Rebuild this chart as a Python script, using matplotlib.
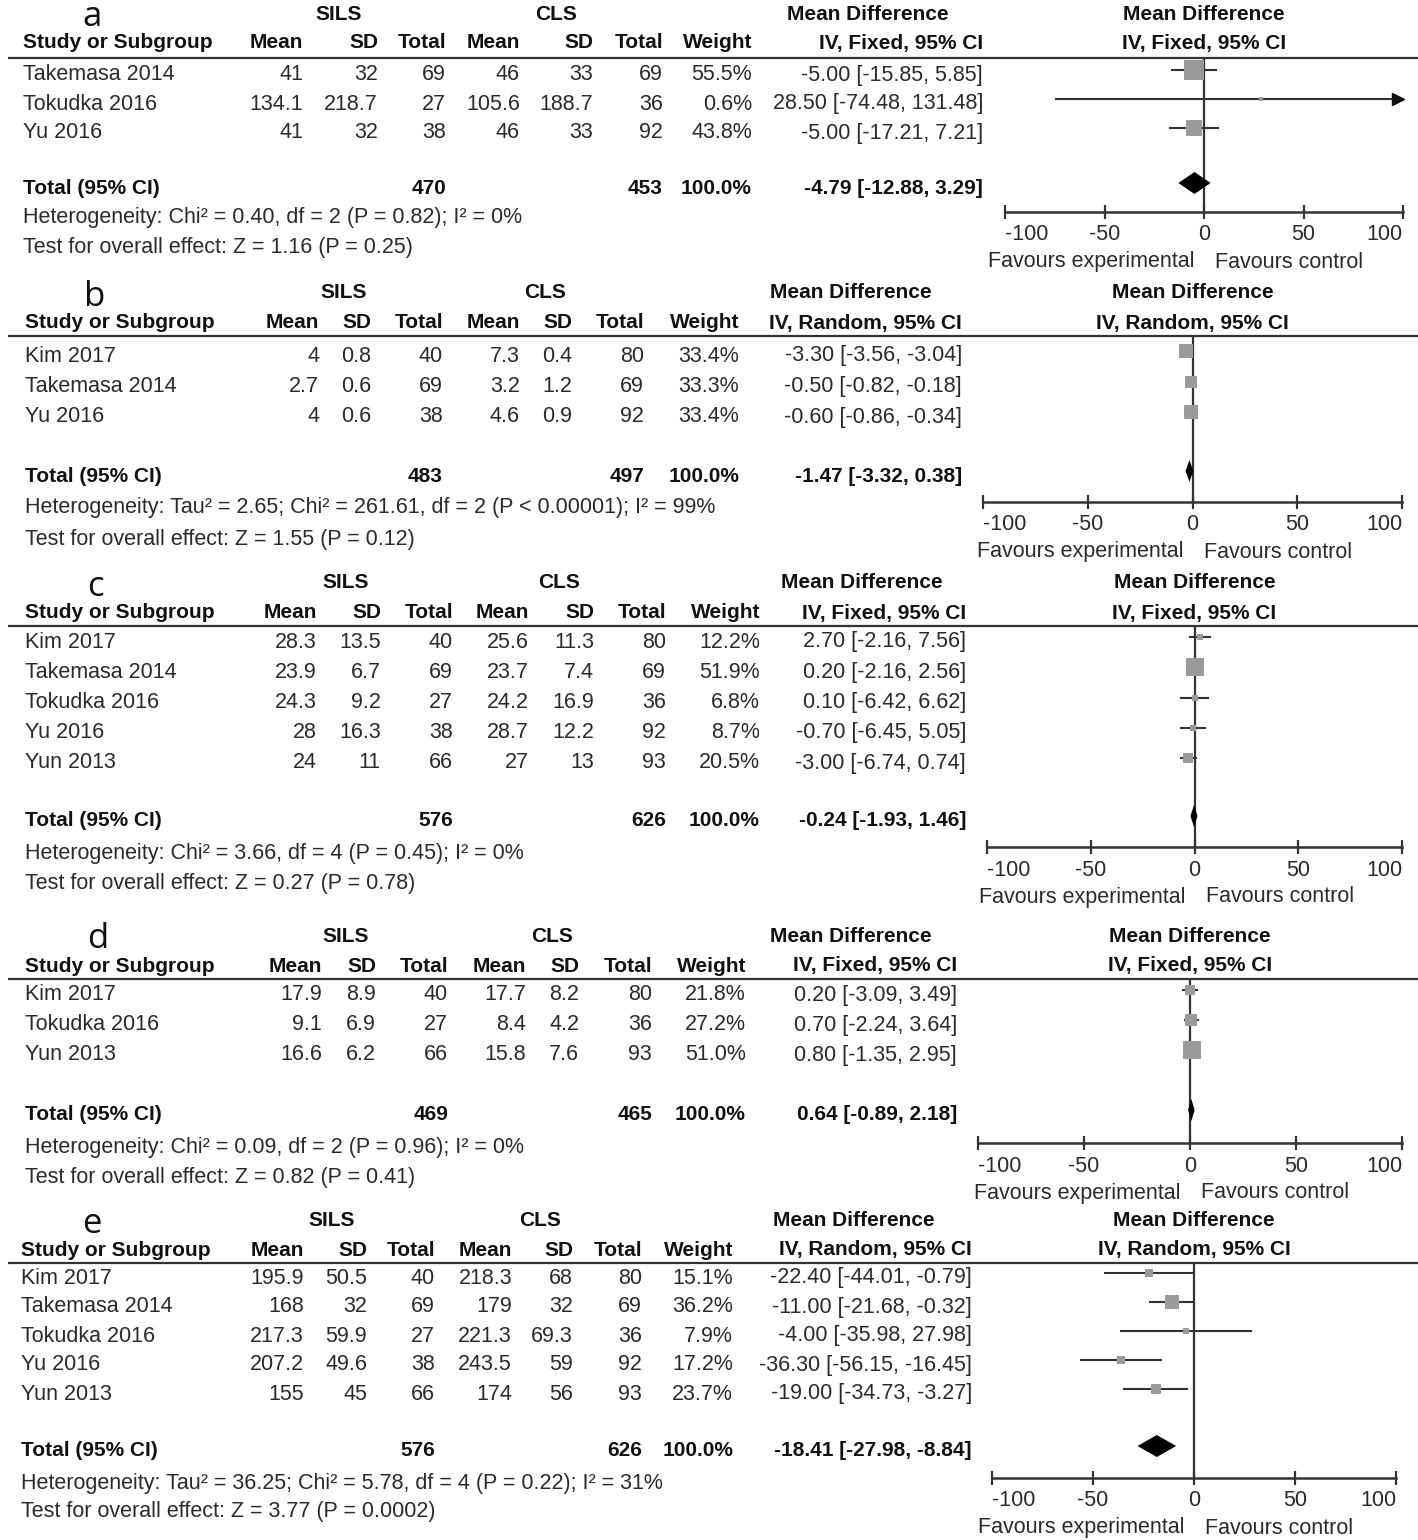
import matplotlib
matplotlib.use("Agg")
import matplotlib.pyplot as plt

W, H = 1418, 1540
plt.rcParams['font.family'] = ['Liberation Sans', 'DejaVu Sans']

# ---------------- data ----------------
# panel a
a_study = ["Takemasa 2014", "Tokudka 2016", "Yu 2016"]
a_sils_mean = [41, 134.1, 41]
a_sils_sd = [32, 218.7, 32]
a_sils_n = [69, 27, 38]
a_cls_mean = [46, 105.6, 46]
a_cls_sd = [33, 188.7, 33]
a_cls_n = [69, 36, 92]
a_weight = [55.5, 0.6, 43.8]
a_md = [-5.00, 28.50, -5.00]
a_lo = [-15.85, -74.48, -17.21]
a_hi = [5.85, 131.48, 7.21]
a_total = [470, 453, -4.79, -12.88, 3.29]
a_het = "Heterogeneity: Chi² = 0.40, df = 2 (P = 0.82); I² = 0%"
a_test = "Test for overall effect: Z = 1.16 (P = 0.25)"
a_method = "IV, Fixed, 95% CI"

# panel b
b_study = ["Kim 2017", "Takemasa 2014", "Yu 2016"]
b_sils_mean = [4, 2.7, 4]
b_sils_sd = [0.8, 0.6, 0.6]
b_sils_n = [40, 69, 38]
b_cls_mean = [7.3, 3.2, 4.6]
b_cls_sd = [0.4, 1.2, 0.9]
b_cls_n = [80, 69, 92]
b_weight = [33.4, 33.3, 33.4]
b_md = [-3.30, -0.50, -0.60]
b_lo = [-3.56, -0.82, -0.86]
b_hi = [-3.04, -0.18, -0.34]
b_total = [483, 497, -1.47, -3.32, 0.38]
b_het = "Heterogeneity: Tau² = 2.65; Chi² = 261.61, df = 2 (P < 0.00001); I² = 99%"
b_test = "Test for overall effect: Z = 1.55 (P = 0.12)"
b_method = "IV, Random, 95% CI"

# panel c
c_study = ["Kim 2017", "Takemasa 2014", "Tokudka 2016", "Yu 2016", "Yun 2013"]
c_sils_mean = [28.3, 23.9, 24.3, 28, 24]
c_sils_sd = [13.5, 6.7, 9.2, 16.3, 11]
c_sils_n = [40, 69, 27, 38, 66]
c_cls_mean = [25.6, 23.7, 24.2, 28.7, 27]
c_cls_sd = [11.3, 7.4, 16.9, 12.2, 13]
c_cls_n = [80, 69, 36, 92, 93]
c_weight = [12.2, 51.9, 6.8, 8.7, 20.5]
c_md = [2.70, 0.20, 0.10, -0.70, -3.00]
c_lo = [-2.16, -2.16, -6.42, -6.45, -6.74]
c_hi = [7.56, 2.56, 6.62, 5.05, 0.74]
c_total = [576, 626, -0.24, -1.93, 1.46]
c_het = "Heterogeneity: Chi² = 3.66, df = 4 (P = 0.45); I² = 0%"
c_test = "Test for overall effect: Z = 0.27 (P = 0.78)"
c_method = "IV, Fixed, 95% CI"

# panel d
d_study = ["Kim 2017", "Tokudka 2016", "Yun 2013"]
d_sils_mean = [17.9, 9.1, 16.6]
d_sils_sd = [8.9, 6.9, 6.2]
d_sils_n = [40, 27, 66]
d_cls_mean = [17.7, 8.4, 15.8]
d_cls_sd = [8.2, 4.2, 7.6]
d_cls_n = [80, 36, 93]
d_weight = [21.8, 27.2, 51.0]
d_md = [0.20, 0.70, 0.80]
d_lo = [-3.09, -2.24, -1.35]
d_hi = [3.49, 3.64, 2.95]
d_total = [469, 465, 0.64, -0.89, 2.18]
d_het = "Heterogeneity: Chi² = 0.09, df = 2 (P = 0.96); I² = 0%"
d_test = "Test for overall effect: Z = 0.82 (P = 0.41)"
d_method = "IV, Fixed, 95% CI"

# panel e
e_study = ["Kim 2017", "Takemasa 2014", "Tokudka 2016", "Yu 2016", "Yun 2013"]
e_sils_mean = [195.9, 168, 217.3, 207.2, 155]
e_sils_sd = [50.5, 32, 59.9, 49.6, 45]
e_sils_n = [40, 69, 27, 38, 66]
e_cls_mean = [218.3, 179, 221.3, 243.5, 174]
e_cls_sd = [68, 32, 69.3, 59, 56]
e_cls_n = [80, 69, 36, 92, 93]
e_weight = [15.1, 36.2, 7.9, 17.2, 23.7]
e_md = [-22.40, -11.00, -4.00, -36.30, -19.00]
e_lo = [-44.01, -21.68, -35.98, -56.15, -34.73]
e_hi = [-0.79, -0.32, 27.98, -16.45, -3.27]
e_total = [576, 626, -18.41, -27.98, -8.84]
e_het = "Heterogeneity: Tau² = 36.25; Chi² = 5.78, df = 4 (P = 0.22); I² = 31%"
e_test = "Test for overall effect: Z = 3.77 (P = 0.0002)"
e_method = "IV, Random, 95% CI"

ticks = [-100, -50, 0, 50, 100]

panels = [
    ("a", a_study, a_sils_mean, a_sils_sd, a_sils_n, a_cls_mean, a_cls_sd, a_cls_n,
     a_weight, a_md, a_lo, a_hi, a_total, a_het, a_test, a_method),
    ("b", b_study, b_sils_mean, b_sils_sd, b_sils_n, b_cls_mean, b_cls_sd, b_cls_n,
     b_weight, b_md, b_lo, b_hi, b_total, b_het, b_test, b_method),
    ("c", c_study, c_sils_mean, c_sils_sd, c_sils_n, c_cls_mean, c_cls_sd, c_cls_n,
     c_weight, c_md, c_lo, c_hi, c_total, c_het, c_test, c_method),
    ("d", d_study, d_sils_mean, d_sils_sd, d_sils_n, d_cls_mean, d_cls_sd, d_cls_n,
     d_weight, d_md, d_lo, d_hi, d_total, d_het, d_test, d_method),
    ("e", e_study, e_sils_mean, e_sils_sd, e_sils_n, e_cls_mean, e_cls_sd, e_cls_n,
     e_weight, e_md, e_lo, e_hi, e_total, e_het, e_test, e_method),
]

# ---------------- layout (pixels) ----------------
# top header, 2nd header, rule, first row, row step, total row, het, test, axis y
rows_y = [
    (15, 43, 57, 75, 29.0, 188, 218, 247, 212),
    (293, 323, 335, 356, 30.5, 476, 508, 539, 502),
    (583, 613, 625, 642, 30.25, 821, 853, 883, 847),
    (936, 966, 978, 995, 30.0, 1115, 1148, 1178, 1143),
    (1221, 1250, 1262, 1278, 29.0, 1451, 1483, 1512, 1478),
]
# right edges: Mean SD Total Mean SD Total Weight CI
cols_x = [
    [303, 378, 446, 520, 593, 663, 752, 983],
    [319, 371, 443, 520, 572, 644, 739, 962],
    [317, 381, 453, 529, 594, 666, 760, 966],
    [322, 376, 448, 526, 579, 652, 746, 957],
    [304, 367, 435, 512, 573, 642, 733, 972],
]
# SILS centre, CLS centre, Mean Difference centre, study left, letter x, letter baseline
head_x = [
    (339, 556, 868, 23, 92, 26),
    (344, 545, 851, 25, 95, 306),
    (346, 559, 862, 25, 95, 596),
    (346, 552, 851, 25, 98, 948),
    (332, 540, 854, 21, 92, 1233),
]
# forest x of -100 and +100
forest_x = [(1005, 1403), (983, 1402), (987, 1402), (978, 1402), (992, 1396)]

FS = 15.5
FSB = 15
TXT = "#2a2a2a"
LINE = "#333333"
BOX = "#9a9a9a"

fig = plt.figure(figsize=(W / 100, H / 100), dpi=100)
bg = fig.add_axes([0, 0, 1, 1])
bg.set_xlim(0, W)
bg.set_ylim(H, 0)
bg.axis("off")


def fmt(v):
    return f"{v:g}"


for k, p in enumerate(panels):
    (letter, study, s_m, s_sd, s_n, c_m, c_sd, c_n,
     weight, md, lo, hi, total, het, test, method) = p
    h1, h2, rule, r0, step, ty, hy, tsy, axy = rows_y[k]
    cx = cols_x[k]
    sils_c, cls_c, md_c, left, lx, ly = head_x[k]
    fx0, fx1 = forest_x[k]
    zero_px = (fx0 + fx1) / 2

    bold = dict(fontsize=FSB, fontweight="bold", color="#111111", va="center")
    norm = dict(fontsize=FS, color=TXT, va="center")

    bg.text(lx, ly, letter, fontsize=25, family="Open Sans", ha="center",
            va="baseline", color="#111111")
    bg.text(sils_c, h1, "SILS", ha="center", **bold)
    bg.text(cls_c, h1, "CLS", ha="center", **bold)
    bg.text(md_c, h1, "Mean Difference", ha="center", **bold)
    bg.text(zero_px, h1, "Mean Difference", ha="center", **bold)
    bg.text(left, h2, "Study or Subgroup", ha="left", **bold)
    for x, lab in zip(cx, ["Mean", "SD", "Total", "Mean", "SD", "Total", "Weight", method]):
        bg.text(x, h2, lab, ha="right", **bold)
    bg.text(zero_px, h2, method, ha="center", **bold)
    bg.hlines(rule + 1, 8, W, color=LINE, lw=1.6)

    for i, name in enumerate(study):
        y = r0 + i * step
        bg.text(left, y, name, ha="left", **norm)
        vals = [fmt(s_m[i]), fmt(s_sd[i]), str(s_n[i]), fmt(c_m[i]), fmt(c_sd[i]),
                str(c_n[i]), f"{weight[i]:.1f}%",
                f"{md[i]:.2f} [{lo[i]:.2f}, {hi[i]:.2f}]"]
        for x, v in zip(cx, vals):
            bg.text(x, y, v, ha="right", **norm)

    bg.text(left, ty, "Total (95% CI)", ha="left", **bold)
    bg.text(cx[2], ty, str(total[0]), ha="right", **bold)
    bg.text(cx[5], ty, str(total[1]), ha="right", **bold)
    bg.text(cx[6], ty, "100.0%", ha="right", **bold)
    bg.text(cx[7], ty, f"{total[2]:.2f} [{total[3]:.2f}, {total[4]:.2f}]",
            ha="right", **bold)
    bg.text(left, hy, het, ha="left", **norm)
    bg.text(left, tsy, test, ha="left", **norm)

    # forest plot axes
    ax = fig.add_axes([fx0 / W, 1 - axy / H, (fx1 - fx0) / W, (axy - rule) / H])
    ax.set_facecolor("none")
    ax.set_xlim(-100, 100)
    ax.set_ylim(axy, rule)
    for s in ["left", "right", "top"]:
        ax.spines[s].set_visible(False)
    ax.spines["bottom"].set_color(LINE)
    ax.spines["bottom"].set_linewidth(1.8)
    ax.set_yticks([])
    ax.set_xticks(ticks)
    ax.set_xticklabels([fmt(t) for t in ticks])
    ax.tick_params(axis="x", direction="inout", length=10, width=1.6, color=LINE,
                   labelsize=FS, labelcolor=TXT, pad=4)
    tl = ax.get_xticklabels()
    tl[0].set_horizontalalignment("left")
    tl[-1].set_horizontalalignment("right")
    ax.axvline(0, color=LINE, lw=1.6, zorder=1)

    for i in range(len(study)):
        y = r0 + i * step - 5
        right = min(hi[i], 100)
        ax.plot([lo[i], right], [y, y], color=LINE, lw=1.5, zorder=2)
        if hi[i] > 100:
            ax.plot([97.5], [y], marker=">", ms=9, color="#111111",
                    clip_on=False, zorder=3)
        side = 3 + 0.3 * weight[i]
        ax.plot([md[i]], [y], marker="s", ms=side / 1.389, color=BOX, mew=0,
                zorder=3)

    yd = ty - 5
    ax.fill([total[3], total[2], total[4], total[2]], [yd, yd - 11, yd, yd + 11],
            color="#000000", zorder=4, lw=0)

    fav_y = axy + 50
    bg.text(zero_px - 9, fav_y, "Favours experimental", ha="right", **norm)
    bg.text(zero_px + 11, fav_y, "Favours control", ha="left", **norm)

fig.savefig("out.png", dpi=100)
